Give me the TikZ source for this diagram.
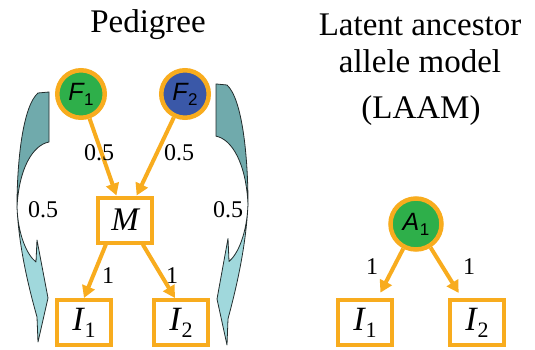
\documentclass[tikz,border=0pt]{standalone}
\usepackage{fontspec}
\setmainfont{Liberation Serif}
\setsansfont{Liberation Sans}
\usetikzlibrary{arrows.meta}

\definecolor{edgeorange}{RGB}{248,172,30}
\definecolor{foundergreen}{RGB}{46,175,74}
\definecolor{founderblue}{RGB}{58,88,168}
\definecolor{upperteal}{RGB}{112,170,172}
\definecolor{lowerteal}{RGB}{160,216,220}
\definecolor{ribbonline}{RGB}{35,45,45}

% italic serif individual label with an upright subscript
\newcommand\indlab[1]{{\itshape I}\kern1pt\raisebox{-7pt}{\fontsize{22}{22}\selectfont #1}}
% italic sans founder label with an upright subscript
\newcommand\fndlab[2]{{\sffamily\itshape #1}\kern0.5pt\raisebox{-5pt}{\sffamily\fontsize{17}{17}\selectfont #2}}

\tikzset{
  founder/.style={circle, draw=edgeorange, line width=4.5pt, minimum size=47.5pt,
    inner sep=0pt, font=\fontsize{25}{25}\selectfont},
  indiv/.style={rectangle, draw=edgeorange, line width=4pt, minimum width=54pt,
    minimum height=45pt, inner sep=0pt, fill=white},
  link/.style={draw=edgeorange, line width=4pt, -{Triangle[length=12pt,width=13pt]}},
  wt/.style={font=\fontsize{24}{24}\selectfont, inner sep=0pt},
  heading/.style={font=\fontsize{33}{33}\selectfont, inner sep=0pt, anchor=base},
  % twisted curved arrow standing for the transmission back to the founder
  twist/.pic={
    \filldraw[fill=upperteal, draw=ribbonline, line width=0.8pt, line join=round]
      (38,93) -- (49,92) -- (49,142)
      .. controls (33,145) and (19,168) .. (17,207)
      .. controls (17,160) and (23,106) .. (38,93) -- cycle;
    \filldraw[fill=lowerteal, draw=ribbonline, line width=0.8pt, line join=round]
      (17,207) .. controls (19,250) and (30,292) .. (37,317)
      -- (38,342) -- (48,298) -- (37,240) -- (36,262)
      .. controls (27,255) and (18,235) .. (17,207) -- cycle;
  }
}

\begin{document}
\begin{tikzpicture}[x=1pt, y=-1pt]
\useasboundingbox (0,0) rectangle (535,349);

% headings
\node[heading] (tped) at (148,32) {Pedigree};
\node[heading] (tlat1) at (420,35) {Latent ancestor};
\node[heading] (tlat2) at (420,72) {allele model};
\node[heading] (tlat3) at (421,118) {(LAAM)};

% side ribbons
\pic at (0,0) {twist};
\pic[xscale=-1, yscale=1.044] at (265,-12.1) {twist};

% pedigree nodes
\node[founder, fill=foundergreen] (F1) at (81,94) {\fndlab{F}{1}};
\node[founder, fill=founderblue] (F2) at (185,94) {\fndlab{F}{2}};
\node[indiv, font=\fontsize{33}{33}\selectfont\itshape] (M) at (125,220) {M};
\node[indiv, font=\fontsize{34}{34}\selectfont] (I1) at (84,322.5) {\indlab{1}};
\node[indiv, font=\fontsize{34}{34}\selectfont] (I2) at (181,322.5) {\indlab{2}};

% LAAM nodes
\node[founder, fill=foundergreen, minimum size=51pt] (A1) at (416,224) {\fndlab{A}{1}};
\node[indiv, font=\fontsize{34}{34}\selectfont] (J1) at (365,322.5) {\indlab{1}};
\node[indiv, font=\fontsize{34}{34}\selectfont] (J2) at (477,322.5) {\indlab{2}};

% connectors
\draw[link] (F1) -- (M);
\draw[link] (F2) -- (M);
\draw[link] (M.232) -- (I1.north);
\draw[link] (M.-54) -- (I2.104);
\draw[link, shorten >=6pt] (A1) -- (J1);
\draw[link, shorten >=6pt] (A1) -- (J2);

% weights
\node[wt] (w1) at (99,153) {0.5};
\node[wt] (w2) at (179,153) {0.5};
\node[wt] (w3) at (43,210) {0.5};
\node[wt] (w4) at (228,210) {0.5};
\node[wt] (w5) at (108,276) {1};
\node[wt] (w6) at (172,276) {1};
\node[wt] (w7) at (372,267) {1};
\node[wt] (w8) at (469,267) {1};
\end{tikzpicture}
\end{document}
